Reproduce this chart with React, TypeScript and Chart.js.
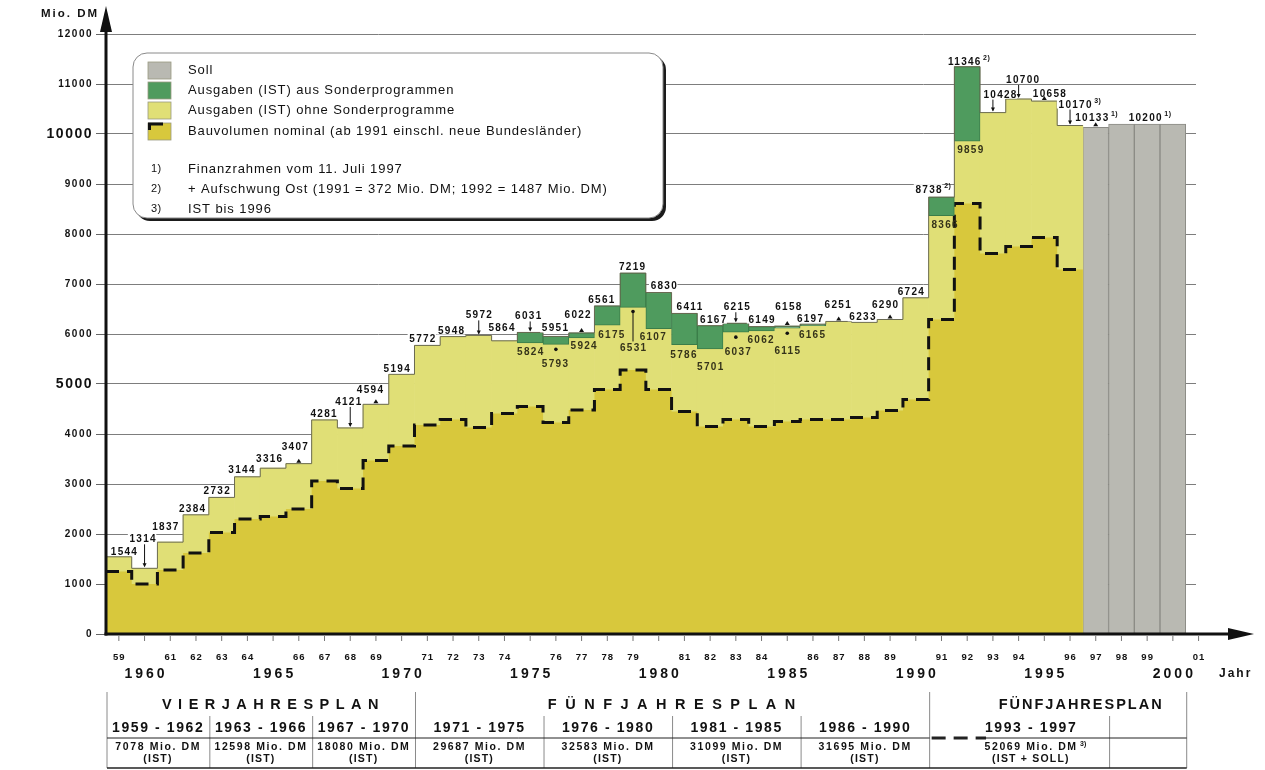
import React, { useEffect, useRef } from 'react';
import { Chart, registerables } from 'chart.js';

Chart.register(...registerables);

const SCHRIFT = '"Liberation Sans", Arial, Helvetica, sans-serif';

// Ausgaben (IST) je Jahr in Mio. DM
const istJahre = [
  1959, 1960, 1961, 1962, 1963, 1964, 1965, 1966, 1967, 1968, 1969, 1970,
  1971, 1972, 1973, 1974, 1975, 1976, 1977, 1978, 1979, 1980, 1981, 1982,
  1983, 1984, 1985, 1986, 1987, 1988, 1989, 1990, 1991, 1992, 1993, 1994,
  1995, 1996,
];
// Gesamtausgaben einschließlich Sonderprogramme
const ausgabenGesamt = [
  1544, 1314, 1837, 2384, 2732, 3144, 3316, 3407, 4281, 4121, 4594, 5194,
  5772, 5948, 5972, 5864, 6031, 5951, 6022, 6561, 7219, 6830, 6411, 6167,
  6215, 6149, 6158, 6197, 6251, 6233, 6290, 6724, 8738, 11346, 10428, 10700,
  10658, 10170,
];
// Ausgaben ohne Sonderprogramme
const ausgabenOhneSonder = [
  1544, 1314, 1837, 2384, 2732, 3144, 3316, 3407, 4281, 4121, 4594, 5194,
  5772, 5948, 5972, 5864, 5824, 5793, 5924, 6175, 6531, 6107, 5786, 5701,
  6037, 6062, 6115, 6165, 6251, 6233, 6290, 6724, 8366, 9859, 10428, 10700,
  10658, 10170,
];
// Bauvolumen nominal (ab 1991 einschl. neue Bundesländer)
const bauvolumen = [
  1250, 1000, 1280, 1620, 2030, 2300, 2350, 2500, 3060, 2910, 3470, 3760,
  4180, 4290, 4130, 4410, 4550, 4230, 4480, 4890, 5280, 4890, 4450, 4150,
  4290, 4150, 4250, 4290, 4290, 4330, 4470, 4690, 6290, 8610, 7610, 7750,
  7930, 7290,
];
// Finanzrahmen (Soll)
const sollJahre = [1997, 1998, 1999, 2000];
const sollWerte = [10133, 10200, 10200, 10200];

// Jahresbeschriftung der Zeitachse
const jahreKurz = [
  1959, 1961, 1962, 1963, 1964, 1966, 1967, 1968, 1969, 1971, 1972, 1973, 1974,
  1976, 1977, 1978, 1979, 1981, 1982, 1983, 1984, 1986, 1987, 1988, 1989, 1991,
  1992, 1993, 1994, 1996, 1997, 1998, 1999, 2001,
];
const jahreLang = [1960, 1965, 1970, 1975, 1980, 1985, 1990, 1995, 2000];

const legendeTexte = [
  'Soll',
  'Ausgaben (IST) aus Sonderprogrammen',
  'Ausgaben (IST) ohne Sonderprogramme',
  'Bauvolumen nominal (ab 1991 einschl. neue Bundesländer)',
];
const fussnotenNr = ['1)', '2)', '3)'];
const fussnotenText = [
  'Finanzrahmen vom 11. Juli 1997',
  '+ Aufschwung Ost (1991 = 372 Mio. DM; 1992 = 1487 Mio. DM)',
  'IST bis 1996',
];

// Planperioden unter der Zeitachse
const planTitel = ['VIERJAHRESPLAN', 'FÜNFJAHRESPLAN', 'FÜNFJAHRESPLAN'];
const planVon = [1959, 1971, 1991];
const planBis = [1970, 1990, 2000];
const periodeVon = [1959, 1963, 1967, 1971, 1976, 1981, 1986, 1993];
const periodeBis = [1962, 1966, 1970, 1975, 1980, 1985, 1990, 1997];
const periodeSumme = ['7078', '12598', '18080', '29687', '32583', '31099', '31695', '52069'];
const periodeStatus = ['(IST)', '(IST)', '(IST)', '(IST)', '(IST)', '(IST)', '(IST)', '(IST + SOLL)'];
const periodeFussnote = ['', '', '', '', '', '', '', '3)'];

// Lage der Wertangaben: [Jahr, Reihe, dx, dy, Markierung, Fußnote]
// Reihe: g = gesamt, o = ohne Sonderprogramme, s = Soll
const wertMarken: [number, string, number, number, number, string][] = [
  [1959, 'g', 5, -2, 0, ''],
  [1960, 'g', -2, -26, 1, ''],
  [1961, 'g', -5, -12, 0, ''],
  [1962, 'g', -4, -3, 0, ''],
  [1963, 'g', -5, -3, 0, ''],
  [1964, 'g', -6, -4, 0, ''],
  [1965, 'g', -4, -6, 0, ''],
  [1966, 'g', -4, -14, 2, ''],
  [1967, 'g', -1, -3, 0, ''],
  [1968, 'g', -2, -23, 1, ''],
  [1969, 'g', -6, -11, 2, ''],
  [1970, 'g', -5, -2, 0, ''],
  [1971, 'g', -5, -3, 0, ''],
  [1972, 'g', -2, -3, 0, ''],
  [1973, 'g', 0, -17, 1, ''],
  [1974, 'g', -3, -10, 0, ''],
  [1975, 'g', -2, -13, 1, ''],
  [1976, 'g', -1, -5, 0, ''],
  [1977, 'g', -4, -15, 2, ''],
  [1978, 'g', -6, -3, 0, ''],
  [1979, 'g', -1, -3, 0, ''],
  [1980, 'g', 5, -4, 0, ''],
  [1981, 'g', 5, -3, 0, ''],
  [1982, 'g', 3, -3, 0, ''],
  [1983, 'g', 1, -13, 1, ''],
  [1984, 'g', 0, -4, 0, ''],
  [1985, 'g', 1, -16, 2, ''],
  [1986, 'g', -3, -2, 0, ''],
  [1987, 'g', -1, -13, 2, ''],
  [1988, 'g', -2, -2, 0, ''],
  [1989, 'g', -5, -12, 2, ''],
  [1990, 'g', -5, -3, 0, ''],
  [1991, 'g', -13, -4, 0, '2)'],
  [1992, 'g', -3, -2, 0, '2)'],
  [1993, 'g', 7, -15, 1, ''],
  [1994, 'g', 4, -16, 1, ''],
  [1995, 'g', 5, -4, 2, ''],
  [1996, 'g', 5, -18, 1, '3)'],
  [1997, 's', -4, -6, 2, '1)'],
  [1999, 's', -2, -3, 0, '1)'],
  [1975, 'o', 0, 12, 0, ''],
  [1976, 'o', -1, 23, 2, ''],
  [1977, 'o', 2, 11, 0, ''],
  [1978, 'o', 4, 13, 0, ''],
  [1979, 'o', 0, 44, 1, ''],
  [1980, 'o', -6, 11, 0, ''],
  [1981, 'o', -1, 13, 0, ''],
  [1982, 'o', 0, 21, 0, ''],
  [1983, 'o', 2, 23, 2, ''],
  [1984, 'o', -1, 12, 0, ''],
  [1985, 'o', 0, 26, 2, ''],
  [1986, 'o', -1, 12, 0, ''],
  [1991, 'o', 3, 12, 0, ''],
  [1992, 'o', 3, 12, 0, ''],
];

const GELB_HELL = '#e0df76';
const GELB_DUNKEL = '#d8c83c';
const GRUEN = '#4f9b5e';
const GRAU = '#b9b9b2';

function schreibe(
  ctx: CanvasRenderingContext2D,
  s: string,
  x: number,
  y: number,
  size: number,
  bold: boolean,
  align: CanvasTextAlign = 'left',
  spacing = 0,
  color = '#111',
  baseline: CanvasTextBaseline = 'middle',
) {
  ctx.font = `${bold ? 'bold ' : ''}${size}px ${SCHRIFT}`;
  (ctx as any).letterSpacing = `${spacing}px`;
  ctx.fillStyle = color;
  ctx.textAlign = align;
  ctx.textBaseline = baseline;
  let dx = 0;
  if (align === 'center') dx = spacing / 2;
  else if (align === 'right') dx = spacing;
  ctx.fillText(s, x + dx, y);
}

function linie(ctx: CanvasRenderingContext2D, x1: number, y1: number, x2: number, y2: number) {
  ctx.beginPath();
  ctx.moveTo(x1, y1);
  ctx.lineTo(x2, y2);
  ctx.stroke();
}

const stufenPunkte = (werte: number[]) => {
  const p = istJahre.map((j, i) => ({ x: j - 0.5, y: werte[i] }));
  p.push({ x: istJahre[istJahre.length - 1] + 0.5, y: werte[werte.length - 1] });
  return p;
};

const beschriftung = {
  id: 'beschriftung',
  beforeDraw(chart: any) {
    const ctx = chart.ctx as CanvasRenderingContext2D;
    ctx.save();
    ctx.fillStyle = '#fff';
    ctx.fillRect(0, 0, chart.width, chart.height);
    ctx.restore();
    (ctx as any).letterSpacing = '1.5px';
  },
  afterDraw(chart: any) {
    const ctx = chart.ctx as CanvasRenderingContext2D;
    const xs = chart.scales.x;
    const ys = chart.scales.y;
    const X = (v: number) => xs.getPixelForValue(v);
    const Y = (v: number) => ys.getPixelForValue(v);
    const x0 = X(1958.5);
    const y0 = Y(0);
    const xEnde = X(2000.5);

    ctx.save();

    // Wertangaben
    for (const [jahr, art, dx, dy, mark, fn] of wertMarken) {
      let wert: number;
      if (art === 's') wert = sollWerte[sollJahre.indexOf(jahr)];
      else {
        const i = istJahre.indexOf(jahr);
        wert = art === 'g' ? ausgabenGesamt[i] : ausgabenOhneSonder[i];
      }
      const xc = X(jahr);
      const yt = Y(wert);
      const tx = xc + dx;
      const ty = yt + dy;
      const s = String(wert);
      ctx.font = `bold 10px ${SCHRIFT}`;
      (ctx as any).letterSpacing = '1.3px';
      const w = ctx.measureText(s).width;
      if (art !== 'o') {
        ctx.fillStyle = '#fff';
        ctx.fillRect(tx - w / 2 - 1, ty - 9, w + 1, 10);
      }
      schreibe(ctx, s, tx, ty, 10, true, 'center', 1.3, art === 'o' ? '#35331a' : '#111', 'alphabetic');
      ctx.strokeStyle = '#111';
      ctx.fillStyle = '#111';
      ctx.lineWidth = 1;
      if (art !== 'o') {
        if (mark === 1) {
          linie(ctx, xc, ty + 2, xc, yt - 2);
          ctx.beginPath();
          ctx.moveTo(xc - 2, yt - 5);
          ctx.lineTo(xc + 2, yt - 5);
          ctx.lineTo(xc, yt - 1);
          ctx.fill();
        } else if (mark === 2) {
          ctx.beginPath();
          ctx.moveTo(xc - 2.5, yt - 1);
          ctx.lineTo(xc + 2.5, yt - 1);
          ctx.lineTo(xc, yt - 5);
          ctx.fill();
        }
      } else {
        if (mark === 1) {
          linie(ctx, xc, yt + 3, xc, ty - 10);
          ctx.beginPath();
          ctx.arc(xc, yt + 4, 1.8, 0, Math.PI * 2);
          ctx.fill();
        } else if (mark === 2) {
          ctx.beginPath();
          ctx.arc(xc, yt + 5, 1.8, 0, Math.PI * 2);
          ctx.fill();
        }
      }
      if (fn) schreibe(ctx, fn, tx + w / 2 + 2, ty - 5, 7, true, 'left', 0.5, '#111', 'alphabetic');
    }

    // Achsen mit Pfeilen
    ctx.strokeStyle = '#111';
    ctx.fillStyle = '#111';
    ctx.lineWidth = 3;
    linie(ctx, x0, y0 + 1.5, x0, 28);
    linie(ctx, x0 - 1.5, y0, 1232, y0);
    ctx.beginPath();
    ctx.moveTo(x0, 6);
    ctx.lineTo(x0 - 6, 32);
    ctx.lineTo(x0 + 6, 32);
    ctx.closePath();
    ctx.fill();
    ctx.beginPath();
    ctx.moveTo(1254, y0);
    ctx.lineTo(1228, y0 - 6);
    ctx.lineTo(1228, y0 + 6);
    ctx.closePath();
    ctx.fill();

    // Teilstriche der Zeitachse
    ctx.strokeStyle = '#777';
    ctx.lineWidth = 1;
    for (let j = 1959; j <= 2001; j++) linie(ctx, X(j), y0 + 2, X(j), y0 + 7);

    // Jahreszahlen
    for (const j of jahreKurz) schreibe(ctx, String(j).slice(2), X(j), 657, 9.5, true, 'center', 1);
    for (const j of jahreLang) schreibe(ctx, String(j), X(j), 674, 14, true, 'center', 3);
    schreibe(ctx, 'Jahr', 1219, 674, 12, true, 'left', 2);

    // Einheit
    schreibe(ctx, 'Mio. DM', 41, 14, 11.5, true, 'left', 2);

    // Legende
    const LX = 133, LY = 53, LW = 530, LH = 165;
    ctx.fillStyle = '#1b1b1b';
    ctx.beginPath();
    (ctx as any).roundRect(LX + 3, LY + 3, LW, LH, 14);
    ctx.fill();
    ctx.fillStyle = '#fff';
    ctx.strokeStyle = '#8a8a8a';
    ctx.lineWidth = 1;
    ctx.beginPath();
    (ctx as any).roundRect(LX, LY, LW, LH, 14);
    ctx.fill();
    ctx.stroke();
    const swatch = [GRAU, GRUEN, GELB_HELL, GELB_DUNKEL];
    const rowY = [70, 90, 110, 131];
    for (let k = 0; k < 4; k++) {
      ctx.fillStyle = swatch[k];
      ctx.fillRect(148, rowY[k] - 8, 23, 17);
      ctx.strokeStyle = '#9a9a80';
      ctx.lineWidth = 0.8;
      ctx.strokeRect(148, rowY[k] - 8, 23, 17);
      schreibe(ctx, legendeTexte[k], 188, rowY[k], 13, false, 'left', 0.9);
    }
    ctx.strokeStyle = '#111';
    ctx.lineWidth = 3;
    linie(ctx, 148, rowY[3] - 7, 163, rowY[3] - 7);
    linie(ctx, 149.5, rowY[3] - 7, 149.5, rowY[3] - 1);
    const fnY = [169, 189, 209];
    for (let k = 0; k < 3; k++) {
      schreibe(ctx, fussnotenNr[k], 151, fnY[k], 11, false, 'left', 0.5);
      schreibe(ctx, fussnotenText[k], 188, fnY[k], 13, false, 'left', 0.9);
    }

    // Tabelle der Planperioden
    const tOben = 692, tMitte = 738, tUnten = 768;
    ctx.strokeStyle = '#8a8a8a';
    ctx.lineWidth = 1;
    for (const g of [1958.5, 1970.5, 1990.5, 2000.5]) linie(ctx, X(g) + 1, tOben, X(g) + 1, tUnten);
    for (const g of [1962.5, 1966.5, 1975.5, 1980.5, 1985.5, 1997.5]) linie(ctx, X(g) + 1, 716, X(g) + 1, tUnten);
    ctx.strokeStyle = '#222';
    linie(ctx, x0 + 1, tMitte, X(1990.5) + 1, tMitte);
    linie(ctx, X(1992.5) + 4, tMitte, xEnde + 1, tMitte);
    ctx.lineWidth = 1.5;
    linie(ctx, x0 + 1, tUnten, xEnde + 1, tUnten);
    ctx.lineWidth = 3;
    ctx.setLineDash([14, 8]);
    linie(ctx, X(1990.5) + 3, tMitte, X(1992.5) + 6, tMitte);
    ctx.setLineDash([]);

    const titelDx = [10, 0, 23];
    const titelAbstand = [6.5, 8.5, 2];
    for (let k = 0; k < 3; k++) {
      const mitte = (X(planVon[k] - 0.5) + X(planBis[k] + 0.5)) / 2 + titelDx[k];
      schreibe(ctx, planTitel[k], mitte, 705, 14.5, true, 'center', titelAbstand[k]);
    }
    for (let k = 0; k < periodeVon.length; k++) {
      const mitte = (X(periodeVon[k] - 0.5) + X(periodeBis[k] + 0.5)) / 2 + (k === 7 ? -14 : 0);
      schreibe(ctx, `${periodeVon[k]} - ${periodeBis[k]}`, mitte, 728, 14, true, 'center', 1.6);
      const summe = `${periodeSumme[k]} Mio. DM`;
      schreibe(ctx, summe, mitte, 747, 10.5, true, 'center', 1.6);
      if (periodeFussnote[k]) {
        ctx.font = `bold 10.5px ${SCHRIFT}`;
        (ctx as any).letterSpacing = '1.6px';
        const w = ctx.measureText(summe).width;
        schreibe(ctx, periodeFussnote[k], mitte + w / 2 + 3, 744, 7, true, 'left', 0.3);
      }
      schreibe(ctx, periodeStatus[k], mitte, 759, 10.5, true, 'center', 1.2);
    }

    ctx.restore();
  },
};

export default function App() {
  const ref = useRef<HTMLCanvasElement>(null);

  useEffect(() => {
    const gelb = istJahre.map((j, i) => ({ x: j, y: [0, ausgabenOhneSonder[i]] }));
    const gruen = istJahre
      .map((j, i) => ({ x: j, y: [ausgabenOhneSonder[i], ausgabenGesamt[i]] }))
      .filter((d) => d.y[1] > d.y[0]);
    const soll = sollJahre.map((j, i) => ({ x: j, y: [0, sollWerte[i]] }));

    const chart = new Chart(ref.current as HTMLCanvasElement, {
      type: 'bar',
      data: {
        datasets: [
          {
            label: legendeTexte[2],
            data: gelb as any,
            backgroundColor: GELB_HELL,
            borderWidth: 0,
            grouped: false,
            barPercentage: 1,
            categoryPercentage: 1,
            order: 6,
          },
          {
            label: legendeTexte[0],
            data: soll as any,
            backgroundColor: GRAU,
            borderColor: '#8b8b85',
            borderWidth: 1,
            borderSkipped: false,
            grouped: false,
            barPercentage: 1,
            categoryPercentage: 1,
            order: 6,
          },
          {
            type: 'line',
            label: legendeTexte[3],
            data: stufenPunkte(bauvolumen) as any,
            stepped: true,
            borderColor: '#111',
            borderWidth: 3,
            borderDash: [13, 8],
            borderCapStyle: 'butt',
            fill: 'origin',
            backgroundColor: GELB_DUNKEL,
            pointRadius: 0,
            order: 3,
          } as any,
          {
            label: legendeTexte[1],
            data: gruen as any,
            backgroundColor: GRUEN,
            borderColor: '#3b7d49',
            borderWidth: 1,
            borderSkipped: false,
            grouped: false,
            barPercentage: 1,
            categoryPercentage: 1,
            order: 2,
          },
          {
            type: 'line',
            label: 'Ausgaben (IST)',
            data: stufenPunkte(ausgabenGesamt) as any,
            stepped: true,
            borderColor: '#6a6a52',
            borderWidth: 1,
            fill: false,
            pointRadius: 0,
            order: 1,
          } as any,
        ],
      },
      options: {
        animation: false,
        responsive: true,
        maintainAspectRatio: false,
        events: [],
        layout: { padding: { left: 8, top: 34, right: 69, bottom: 136 } },
        plugins: { legend: { display: false }, tooltip: { enabled: false } },
        scales: {
          x: {
            type: 'linear',
            min: 1958.5,
            max: 2000.9,
            offset: false,
            display: false,
            ticks: { includeBounds: false, stepSize: 5 },
          },
          y: {
            type: 'linear',
            min: 0,
            max: 12000,
            afterFit: (s: any) => {
              s.width = 98;
            },
            border: { display: false },
            grid: {
              color: (c: any) => (c.tick && c.tick.value === 0 ? 'rgba(0,0,0,0)' : '#7d7d7d'),
              lineWidth: 1,
              drawTicks: true,
              tickLength: 10,
              tickColor: '#666',
            },
            ticks: {
              stepSize: 1000,
              padding: 3,
              color: '#111',
              callback: (v: any) => String(v),
              font: (c: any) => ({
                family: SCHRIFT,
                weight: 'bold',
                size: c.tick && (c.tick.value === 10000 || c.tick.value === 5000) ? 14 : 10,
              }),
            },
          },
        },
      } as any,
      plugins: [beschriftung],
    });
    return () => chart.destroy();
  }, []);

  return (
    <div style={{ position: 'fixed', left: 0, top: 0, width: 1265, height: 770, background: '#fff' }}>
      <canvas ref={ref} />
    </div>
  );
}
